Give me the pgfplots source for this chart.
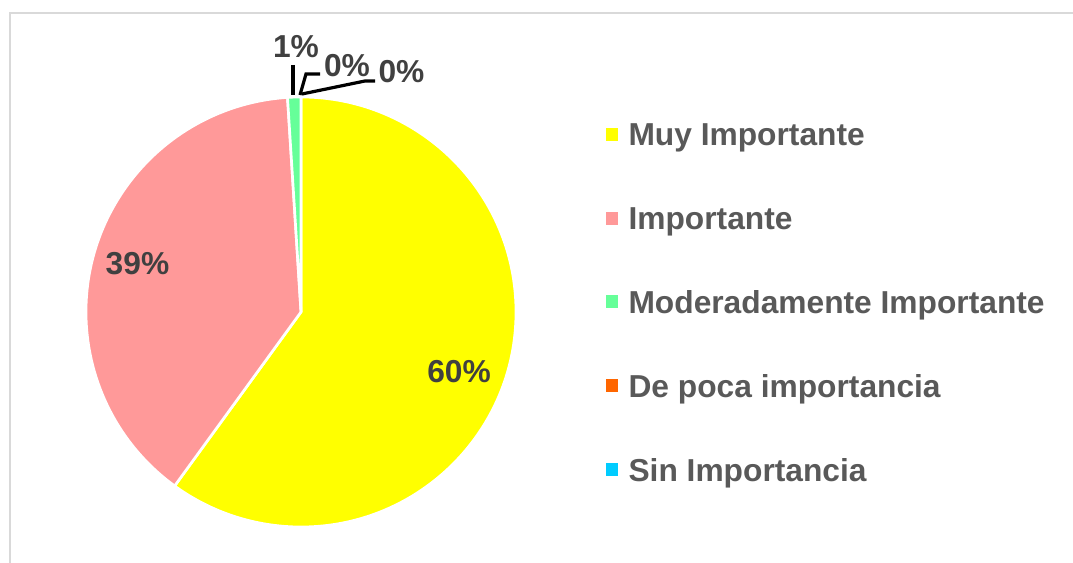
\documentclass[border=0pt]{standalone}
\usepackage{pgfplots}
\pgfplotsset{compat=1.18}
\usepackage{pgfplotstable}
\usepackage{fontspec}
\setmainfont{Liberation Sans}
\definecolor{cMuy}{HTML}{FFFF00}
\definecolor{cImp}{HTML}{FF9999}
\definecolor{cMod}{HTML}{66FF99}
\definecolor{cPoca}{HTML}{FF6600}
\definecolor{cSin}{HTML}{00CCFF}
\definecolor{legtext}{HTML}{595959}
\definecolor{labtext}{HTML}{404040}
\definecolor{framegray}{HTML}{D9D9D9}
\pgfplotstableread{
idx value col
0 60 cMuy
1 39 cImp
2 1 cMod
3 0 cPoca
4 0 cSin
}\piedata
\newcommand{\bigfont}{\fontsize{23.8}{28}\selectfont\bfseries}
\begin{document}
\begin{tikzpicture}
\begin{axis}[
  scale only axis, width=804.75pt, height=422.25pt,
  xmin=0, xmax=1073, ymin=0, ymax=563,
  hide axis, clip=false,
  legend cell align=left,
  legend style={draw=none, fill=none, inner sep=0pt, outer sep=0pt,
    at={(axis cs:606,440)}, anchor=north west,
    font=\bigfont, text=legtext,
    nodes={inner sep=0pt, text height=17.25pt, text depth=4.5pt},
    row sep=41.2pt,
    /tikz/every odd column/.append style={column sep=8.25pt}},
]
\addlegendimage{legend image code/.code={\fill[cMuy] (0pt,-1.8pt) rectangle (8.25pt,7.2pt);}}
\addlegendentry{Muy Importante}
\addlegendimage{legend image code/.code={\fill[cImp] (0pt,-1.8pt) rectangle (8.25pt,7.2pt);}}
\addlegendentry{Importante}
\addlegendimage{legend image code/.code={\fill[cMod] (0pt,-1.8pt) rectangle (8.25pt,7.2pt);}}
\addlegendentry{Moderadamente Importante}
\addlegendimage{legend image code/.code={\fill[cPoca] (0pt,-1.8pt) rectangle (8.25pt,7.2pt);}}
\addlegendentry{De poca importancia}
\addlegendimage{legend image code/.code={\fill[cSin] (0pt,-1.8pt) rectangle (8.25pt,7.2pt);}}
\addlegendentry{Sin Importancia}

\pgfplotsextra{
  \xdef\startang{90}
  \foreach \i in {0,1,2,3,4}{
    \pgfplotstablegetelem{\i}{value}\of\piedata \let\v\pgfplotsretval
    \pgfplotstablegetelem{\i}{col}\of\piedata \let\c\pgfplotsretval
    \pgfmathsetmacro\endang{\startang - 3.6*\v}
    \ifdim \v pt > 0pt
      \fill[\c, draw=white, line width=2pt, line join=round]
        (axis cs:301,251) -- ++(\startang:161.25pt)
        arc[start angle=\startang, end angle=\endang, radius=161.25pt] -- cycle;
    \fi
    \xdef\startang{\endang}
  }
  % frame
  \draw[framegray, line width=1.5pt] (axis cs:9.5,0) -- (axis cs:9.5,549.5) -- (axis cs:1073,549.5);
  % leader lines
  \draw[black, line width=2.4pt] (axis cs:293,498) -- (axis cs:293,468);
  \draw[black, line width=2.4pt] (axis cs:320,489) -- (axis cs:306,489) -- (axis cs:300,468);
  \draw[black, line width=2.4pt] (axis cs:375,482) -- (axis cs:365,482) -- (axis cs:302,469);
}
% labels
\node[anchor=base, font=\bigfont, text=labtext, inner sep=0pt] at (axis cs:459,180) {60\%};
\node[anchor=base, font=\bigfont, text=labtext, inner sep=0pt] at (axis cs:137.5,288) {39\%};
\node[anchor=base, font=\bigfont, text=labtext, inner sep=0pt] at (axis cs:296,505) {1\%};
\node[anchor=base, font=\bigfont, text=labtext, inner sep=0pt] at (axis cs:347,486) {0\%};
\node[anchor=base, font=\bigfont, text=labtext, inner sep=0pt] at (axis cs:401.5,480) {0\%};
\end{axis}
\pgfresetboundingbox
\path[use as bounding box] (current axis.south west) rectangle (current axis.north east);
\end{tikzpicture}
\end{document}
